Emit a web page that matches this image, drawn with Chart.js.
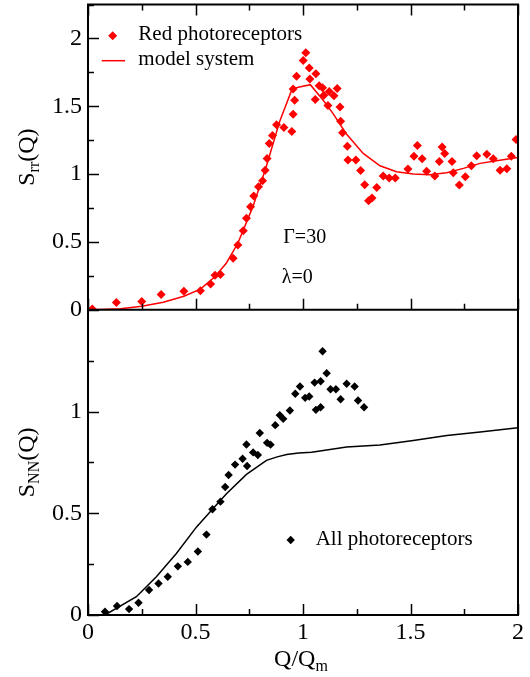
<!DOCTYPE html>
<html><head><meta charset="utf-8">
<script src="https://cdn.jsdelivr.net/npm/chart.js@4"></script>
<style>html,body{margin:0;padding:0;background:#fff}canvas{display:block}</style>
</head><body>
<canvas id="c" width="530" height="677"></canvas>
<script>
// ---- data ----
const redQ = [0.020,0.132,0.250,0.340,0.446,0.523,0.570,0.591,0.616,0.675,0.697,0.722,0.737,0.756,0.771,0.793,0.812,0.824,0.833,0.843,0.858,0.877,0.911,0.948,0.954,0.961,0.954,0.970,
  1.001,1.013,1.029,1.032,1.060,1.057,1.075,1.091,1.097,1.122,1.144,1.116,1.159,1.172,1.175,1.184,1.206,1.209,1.246,1.268,1.287,1.305,1.321,1.343,1.373,1.401,1.429,1.488,1.516,1.532,1.554,1.575,1.613,1.634,1.647,1.659,1.693,1.699,1.727,1.755,1.783,1.808,1.855,1.885,1.917,1.948,1.969,1.991];
const redS = [0.005,0.054,0.061,0.113,0.137,0.140,0.189,0.255,0.260,0.380,0.478,0.583,0.674,0.760,0.838,0.907,0.951,1.029,1.115,1.225,1.284,1.363,1.343,1.314,1.441,1.544,1.627,1.721,
  1.838,1.895,1.782,1.701,1.740,1.549,1.652,1.637,1.581,1.608,1.578,1.505,1.630,1.495,1.390,1.304,1.206,1.103,1.103,1.027,0.921,0.804,0.824,0.902,0.985,0.971,0.971,1.037,1.132,1.211,1.113,1.020,0.985,1.093,1.199,1.152,1.093,1.010,0.919,0.980,1.061,1.135,1.147,1.113,1.029,1.039,1.132,1.255];
const modelRQ = [0.02,0.15,0.25,0.35,0.446,0.523,0.591,0.643,0.697,0.767,0.829,0.891,0.95,1.034,1.094,1.14,1.20,1.28,1.358,1.435,1.513,1.59,1.668,1.746,1.824,1.90,2.0];
const modelRS = [0.0,0.008,0.025,0.055,0.10,0.152,0.245,0.343,0.49,0.76,1.054,1.385,1.63,1.659,1.544,1.446,1.299,1.152,1.061,1.017,1.0,0.995,1.01,1.042,1.079,1.098,1.123];
const allQ = [0.079,0.135,0.191,0.235,0.284,0.328,0.371,0.418,0.464,0.511,0.551,0.579,0.616,0.638,0.654,0.684,0.719,0.740,0.737,0.768,0.790,0.799,0.833,0.849,0.871,0.892,0.908,0.939,0.964,0.986,1.010,1.029,1.054,1.082,1.060,1.082,1.091,1.110,1.128,1.153,1.175,1.203,1.240,1.256,1.284];
const allS = [0.016,0.044,0.029,0.060,0.123,0.155,0.188,0.239,0.261,0.312,0.395,0.520,0.557,0.629,0.688,0.739,0.768,0.732,0.838,0.799,0.786,0.894,0.846,0.837,0.933,0.982,0.964,1.005,1.087,1.123,1.067,1.074,1.142,1.149,1.008,1.021,1.296,1.188,1.109,1.109,1.060,1.136,1.123,1.054,1.021];
const modelNQ = [0.079,0.225,0.318,0.411,0.505,0.582,0.644,0.737,0.83,0.88,0.924,0.98,1.04,1.203,1.358,1.513,1.669,1.824,2.0];
const modelNS = [0.0,0.09,0.188,0.302,0.433,0.523,0.596,0.691,0.76,0.777,0.789,0.796,0.80,0.825,0.835,0.858,0.882,0.899,0.920];
const xTickLabels = [0, 0.5, 1, 1.5, 2];
const topTickLabels = [0, 0.5, 1, 1.5, 2];
const botTickLabels = [0, 0.5, 1];

const FONT = "'Liberation Serif', 'Times New Roman', serif";
const pts = (xs, ys) => xs.map((x, i) => ({x: x, y: ys[i]}));

function richWidth(ctx, parts, main, sub) {
  let w = 0;
  for (const p of parts) { ctx.font = (p[1] ? sub : main) + 'px ' + FONT; w += ctx.measureText(p[0]).width; }
  return w;
}
function drawRich(ctx, parts, x, y, main, sub, subOff, center) {
  let w = richWidth(ctx, parts, main, sub);
  let cx = center ? x - w / 2 : x;
  ctx.textBaseline = 'alphabetic'; ctx.textAlign = 'left';
  for (const p of parts) {
    ctx.font = (p[1] ? sub : main) + 'px ' + FONT;
    ctx.fillText(p[0], cx, p[1] ? y + subOff : y);
    cx += ctx.measureText(p[0]).width;
  }
}
function diamond(ctx, x, y, r, color) {
  ctx.fillStyle = color; ctx.beginPath();
  ctx.moveTo(x - r, y); ctx.lineTo(x, y - r); ctx.lineTo(x + r, y); ctx.lineTo(x, y + r);
  ctx.closePath(); ctx.fill();
}
function noPad(s) { s.paddingTop = 0; s.paddingBottom = 0; s.paddingLeft = 0; s.paddingRight = 0; }

const framePlugin = {
  id: 'frame',
  afterDraw(chart) {
    const ctx = chart.ctx, a = chart.chartArea;
    const xs = chart.scales.x, yT = chart.scales.yT, yB = chart.scales.yB;
    const mid = yB.getPixelForValue(1.5);
    ctx.save();
    ctx.strokeStyle = '#000'; ctx.lineWidth = 2;
    ctx.strokeRect(a.left, a.top, a.right - a.left, a.bottom - a.top);
    ctx.beginPath(); ctx.moveTo(a.left, mid); ctx.lineTo(a.right, mid); ctx.stroke();
    ctx.lineWidth = 1.5;
    ctx.beginPath();
    for (let i = 0; i <= 8; i++) {
      const v = i * 0.25, px = Math.round(xs.getPixelForValue(v)) + 0.5, len = (i % 2 === 0) ? 11 : 6;
      ctx.moveTo(px, a.bottom); ctx.lineTo(px, a.bottom - len);
      ctx.moveTo(px, mid); ctx.lineTo(px, mid - len);
      ctx.moveTo(px, a.top); ctx.lineTo(px, a.top + len);
    }
    for (let i = 0; i <= 9; i++) {
      const py = Math.round(yT.getPixelForValue(i * 0.25)) + 0.5, len = (i % 2 === 0) ? 11 : 6;
      ctx.moveTo(a.left, py); ctx.lineTo(a.left + len, py);
    }
    for (let i = 0; i <= 6; i++) {
      const py = Math.round(yB.getPixelForValue(i * 0.25)) + 0.5, len = (i % 2 === 0) ? 11 : 6;
      ctx.moveTo(a.left, py); ctx.lineTo(a.left + len, py);
    }
    ctx.stroke();

    // axis titles
    ctx.fillStyle = '#000';
    ctx.save(); ctx.translate(33.5, (yT.top + yT.bottom) / 2); ctx.rotate(-Math.PI / 2);
    drawRich(ctx, [['S', 0], ['rr', 1], ['(Q)', 0]], 0, 0, 24, 16, 5, true);
    ctx.restore();
    ctx.save(); ctx.translate(33.5, (yB.top + yB.bottom) / 2); ctx.rotate(-Math.PI / 2);
    drawRich(ctx, [['S', 0], ['NN', 1], ['(Q)', 0]], 0, 0, 24, 16, 5, true);
    ctx.restore();
    drawRich(ctx, [['Q/Q', 0], ['m', 1]], 301, 666, 24, 16, 5, true);

    // legends
    diamond(ctx, 112.7, 35.7, 4.5, '#ff0000');
    ctx.fillStyle = '#000'; ctx.font = '21px ' + FONT; ctx.textAlign = 'left'; ctx.textBaseline = 'alphabetic';
    ctx.fillText('Red photoreceptors', 138.3, 40);
    ctx.strokeStyle = '#ff0000'; ctx.lineWidth = 1.5;
    ctx.beginPath(); ctx.moveTo(101.7, 60.7); ctx.lineTo(125, 60.7); ctx.stroke();
    ctx.fillText('model system', 138.3, 65);
    diamond(ctx, 290.7, 540, 4.2, '#000');
    ctx.fillStyle = '#000'; ctx.font = '21px ' + FONT;
    ctx.fillText('All photoreceptors', 315.7, 545);
    ctx.font = '20px ' + FONT;
    ctx.fillText('\u0393=30', 283.3, 243.3);
    ctx.fillText('\u03BB=0', 281.7, 283.3);
    ctx.restore();
  }
};

const tickFont = {family: FONT, size: 24};
new Chart(document.getElementById('c').getContext('2d'), {
  type: 'scatter',
  data: {datasets: [
    {label: 'Red photoreceptors', data: pts(redQ, redS), yAxisID: 'yT', pointStyle: 'rectRot', pointRadius: 4.5, backgroundColor: '#ff0000', borderColor: '#ff0000', borderWidth: 0},
    {label: 'model system', data: pts(modelRQ, modelRS), yAxisID: 'yT', showLine: true, pointRadius: 0, borderColor: '#ff0000', borderWidth: 1.5, fill: false},
    {label: 'All photoreceptors', data: pts(allQ, allS), yAxisID: 'yB', pointStyle: 'rectRot', pointRadius: 4.2, backgroundColor: '#000', borderColor: '#000', borderWidth: 0},
    {label: 'model NN', data: pts(modelNQ, modelNS), yAxisID: 'yB', showLine: true, pointRadius: 0, borderColor: '#000', borderWidth: 1.5, fill: false}
  ]},
  options: {
    responsive: false, animation: false,
    layout: {padding: {top: 4, right: 12, left: 0, bottom: 0}},
    plugins: {legend: {display: false}, tooltip: {enabled: false}},
    scales: {
      x: {type: 'linear', min: 0, max: 2, position: 'bottom',
        afterFit(s) { s.height = 62; noPad(s); },
        grid: {display: false, drawTicks: false}, border: {display: false},
        ticks: {stepSize: 0.5, padding: 3, color: '#000', font: tickFont, maxRotation: 0, autoSkip: false,
          callback: v => xTickLabels.includes(v) ? String(v) : ''}},
      yB: {type: 'linear', min: 0, max: 1.5, position: 'left', stack: 'panels', stackWeight: 1,
        afterFit(s) { s.width = 88; noPad(s); },
        grid: {display: false, drawTicks: false}, border: {display: false},
        ticks: {stepSize: 0.25, padding: 6, color: '#000', font: tickFont, autoSkip: false,
          callback: v => botTickLabels.includes(v) ? String(v) : ''}},
      yT: {type: 'linear', min: 0, max: 2.25, position: 'left', stack: 'panels', stackWeight: 1,
        afterFit(s) { s.width = 88; noPad(s); },
        grid: {display: false, drawTicks: false}, border: {display: false},
        ticks: {stepSize: 0.25, padding: 6, color: '#000', font: tickFont, autoSkip: false,
          callback: v => topTickLabels.includes(v) ? String(v) : ''}}
    }
  },
  plugins: [framePlugin]
});
</script>
</body></html>
